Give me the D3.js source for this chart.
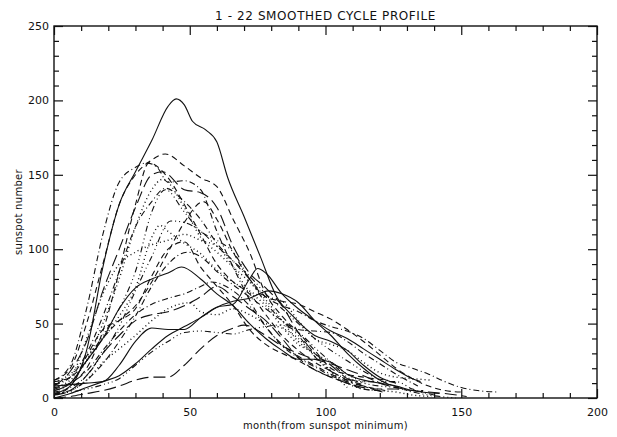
<!DOCTYPE html>
<html>
<head>
<meta charset="utf-8">
<script src="https://cdn.jsdelivr.net/npm/d3@7"></script>
<style>
    html, body { margin: 0; padding: 0; background: #fff; }
    svg { display: block; }
    text { font-family: 'DejaVu Sans', sans-serif; fill: #111; }
    .tick line { stroke: #111; }
    .axis .domain { display: none; }
</style>
</head>
<body>
<svg id="chart"></svg>
<script>
const titleText = '1 - 22 SMOOTHED CYCLE PROFILE';
const xLabelText = 'month(from sunspot minimum)';
const yLabelText = 'sunspot number';

const xMajorTicks = [0, 50, 100, 150, 200];
const yMajorTicks = [0, 50, 100, 150, 200, 250];

// [month from minimum, smoothed sunspot number]
const cycle01 = [[0,8],[6,9],[12,10],[18,11],[24,22],[30,38],[36,47],[42,46],[48,46],[54,54],[60,61],[66,63],[72,80],[75,87],[78,84],[84,70],[90,60],[96,52],[102,45],[108,40],[114,33],[120,26],[126,19],[132,13],[135,11]];
const cycle02 = [[0,11],[6,16],[12,28],[18,40],[24,55],[30,74],[36,108],[39,116],[42,112],[48,104],[54,97],[60,86],[66,78],[72,71],[78,62],[84,48],[90,36],[96,30],[102,18],[108,7]];
const cycle03 = [[0,7],[6,10],[12,20],[18,45],[24,85],[30,130],[35,158],[42,148],[48,130],[54,110],[60,90],[66,78],[72,70],[78,56],[84,42],[90,32],[96,24],[102,18],[108,12],[110,10]];
const cycle04 = [[0,9],[6,14],[12,30],[18,55],[24,85],[30,115],[36,132],[41,141],[48,132],[54,120],[60,104],[66,92],[72,80],[78,68],[84,62],[90,58],[96,52],[102,48],[108,45],[114,40],[120,32],[126,24],[132,20],[138,16],[144,11],[150,7],[156,5],[164,4]];
const cycle05 = [[0,3],[6,4],[12,6],[18,9],[24,13],[30,22],[36,31],[42,38],[48,44],[54,45],[60,44],[66,43],[72,46],[78,48],[83,49],[90,44],[96,34],[102,24],[108,14],[114,10],[120,8],[126,7],[132,4],[138,2],[148,0]];
const cycle06 = [[0,0],[6,1],[12,3],[18,5],[24,8],[30,12],[36,14],[42,14],[48,22],[54,33],[60,42],[66,47],[70,49],[78,42],[84,35],[90,30],[96,26],[102,23],[108,19],[114,15],[120,10],[126,7],[132,5],[138,4],[144,3],[152,1]];
const cycle07 = [[0,0],[6,3],[12,7],[18,11],[24,15],[30,23],[36,33],[42,42],[48,48],[54,54],[60,61],[66,65],[72,67],[79,72],[84,70],[90,64],[96,52],[102,42],[108,30],[114,20],[120,12],[127,7]];
const cycle08 = [[0,7],[6,12],[12,25],[18,50],[24,80],[30,115],[36,140],[40,147],[48,128],[54,108],[60,98],[66,88],[72,78],[78,66],[84,52],[90,38],[96,30],[102,24],[108,16],[115,10]];
const cycle09 = [[0,11],[6,14],[12,25],[18,40],[24,52],[30,62],[36,78],[42,98],[48,118],[55,132],[60,120],[66,98],[72,80],[78,68],[84,65],[90,63],[96,58],[102,53],[108,46],[114,38],[120,29],[126,20],[132,13],[138,8],[144,5],[150,4]];
const cycle10 = [[0,3],[6,5],[12,12],[18,23],[24,38],[30,55],[36,75],[42,90],[49,98],[54,95],[60,85],[66,76],[72,68],[78,60],[84,52],[90,46],[96,45],[102,44],[108,38],[114,30],[120,23],[126,16],[132,10],[134,8]];
const cycle11 = [[0,5],[6,10],[12,25],[18,42],[24,60],[30,85],[36,125],[41,140],[48,125],[54,112],[60,106],[66,98],[72,80],[78,64],[84,52],[90,42],[96,28],[102,18],[108,13],[114,11],[120,11],[126,11],[132,6],[140,2]];
const cycle12 = [[0,2],[6,5],[12,15],[18,30],[24,42],[30,52],[36,56],[42,58],[48,62],[54,68],[60,75],[66,68],[72,60],[78,52],[84,40],[90,27],[96,19],[102,14],[108,10],[114,7],[120,6],[126,6],[132,5],[136,5]];
const cycle13 = [[0,5],[6,10],[12,25],[18,40],[24,60],[30,74],[36,80],[42,84],[47,88],[54,80],[60,70],[66,62],[72,50],[78,40],[84,32],[90,26],[96,26],[102,24],[108,16],[114,12],[120,10],[126,8],[132,5],[142,3]];
const cycle14 = [[0,3],[6,5],[12,12],[18,24],[24,33],[30,42],[36,52],[42,60],[50,64],[54,58],[60,56],[66,60],[72,56],[78,50],[84,47],[90,40],[96,28],[102,18],[108,10],[114,6],[120,5],[126,4],[132,2],[139,1]];
const cycle15 = [[0,2],[6,8],[12,28],[18,46],[24,52],[30,60],[36,82],[42,100],[48,105],[54,88],[60,75],[66,62],[72,46],[78,36],[84,30],[90,25],[96,19],[102,14],[108,10],[114,6],[120,5]];
const cycle16 = [[0,6],[6,10],[12,18],[18,32],[24,45],[30,56],[36,63],[42,67],[48,70],[54,75],[58,78],[66,72],[72,62],[78,48],[84,35],[90,27],[96,21],[102,15],[108,11],[114,8],[122,5]];
const cycle17 = [[0,4],[6,7],[12,15],[18,30],[24,48],[30,72],[36,95],[43,119],[48,118],[54,112],[60,102],[66,92],[72,82],[78,70],[84,60],[90,50],[96,40],[102,32],[108,25],[114,18],[120,12],[125,8]];
const cycle18 = [[0,8],[6,18],[12,38],[18,72],[24,100],[30,128],[36,150],[40,152],[48,140],[54,138],[60,128],[66,102],[72,84],[78,74],[84,62],[90,44],[96,30],[102,22],[108,13],[114,8],[121,4]];
const cycle19 = [[0,3],[6,8],[12,32],[18,88],[24,130],[30,152],[36,173],[42,196],[45,201],[48,197],[51,186],[56,180],[60,172],[64,148],[70,122],[76,95],[82,68],[88,55],[96,42],[102,38],[108,32],[114,22],[120,14],[126,10]];
const cycle20 = [[0,10],[6,14],[12,40],[18,70],[24,90],[30,98],[36,103],[42,106],[48,110],[54,106],[60,102],[66,88],[72,72],[78,68],[84,65],[90,52],[96,40],[102,36],[108,32],[114,24],[120,17],[126,14],[132,13],[139,12]];
const cycle21 = [[0,12],[6,20],[12,50],[18,90],[24,130],[30,150],[36,160],[41,164],[48,156],[54,148],[60,142],[66,120],[72,98],[78,70],[84,55],[90,44],[96,32],[102,20],[108,16],[114,14],[123,12]];
const cycle22 = [[0,12],[6,22],[12,60],[18,110],[24,145],[30,155],[34,158],[38,155],[42,145],[48,146],[54,140],[60,112],[66,88],[72,66],[78,48],[84,36],[90,28],[96,22],[102,16],[108,12],[114,9]];

const cycles = [
    cycle01, cycle02, cycle03, cycle04, cycle05, cycle06, cycle07, cycle08, cycle09, cycle10, cycle11,
    cycle12, cycle13, cycle14, cycle15, cycle16, cycle17, cycle18, cycle19, cycle20, cycle21, cycle22,
];

// IDL-like linestyles: solid, dotted, dashed, dash-dot, dash-dot-dot-dot, long dash
const lineStyles = ['none', '1,3', '6,4', '6,3,1,3', '6,3,1,3,1,3,1,3', '12,5'];

const fullWidth = 617;
const fullHeight = 437;
const margin = {top: 26, right: 20, bottom: 39, left: 54};
const width = fullWidth - margin.left - margin.right;
const height = fullHeight - margin.top - margin.bottom;

const xScale = d3.scaleLinear()
    .domain([0, 200])
    .range([0, width]);

const yScale = d3.scaleLinear()
    .domain([0, 250])
    .range([height, 0]);

const xMinor = d3.range(0, 201, 10).filter(d => xMajorTicks.indexOf(d) < 0);
const yMinor = d3.range(0, 251, 10).filter(d => yMajorTicks.indexOf(d) < 0);

const svg = d3.select('#chart')
    .attr('width', fullWidth)
    .attr('height', fullHeight);

const g = svg.append('g')
    .attr('transform', `translate(${margin.left}, ${margin.top})`);

const line = d3.line()
    .x(d => xScale(d[0]))
    .y(d => yScale(d[1]))
    .curve(d3.curveMonotoneX);

const gLines = g.append('g').attr('class', 'cycles');

gLines.selectAll('.cycle').data(cycles)
    .enter().append('path')
    .attr('class', (d, i) => `cycle cycle--${i + 1}`)
    .attr('d', line)
    .attr('fill', 'none')
    .attr('stroke', '#111')
    .attr('stroke-width', (d, i) => (i % 6 === 1 ? 1.4 : 1.1))
    .attr('stroke-dasharray', (d, i) => lineStyles[i % 6]);

// frame
g.append('rect')
    .attr('x', 0)
    .attr('y', 0)
    .attr('width', width)
    .attr('height', height)
    .attr('fill', 'none')
    .attr('stroke', '#111')
    .attr('stroke-width', 1.4);

const tickFont = (sel) => sel.selectAll('text')
    .style('font-size', '11px')
    .style('font-family', "'DejaVu Sans', sans-serif");

// bottom axis with labels
g.append('g')
    .attr('class', 'axis axis--x')
    .attr('transform', `translate(0, ${height})`)
    .call(d3.axisBottom(xScale).tickValues(xMajorTicks).tickSizeInner(-9).tickSizeOuter(0).tickPadding(10).tickFormat(d3.format('d')))
    .call(tickFont);

g.append('g')
    .attr('class', 'axis axis--x-minor')
    .attr('transform', `translate(0, ${height})`)
    .call(d3.axisBottom(xScale).tickValues(xMinor).tickSizeInner(-5).tickSizeOuter(0).tickFormat(''));

// top axis ticks only
g.append('g')
    .attr('class', 'axis axis--x-top')
    .call(d3.axisTop(xScale).tickValues(xMajorTicks).tickSizeInner(-9).tickSizeOuter(0).tickFormat(''));

g.append('g')
    .attr('class', 'axis axis--x-top-minor')
    .call(d3.axisTop(xScale).tickValues(xMinor).tickSizeInner(-5).tickSizeOuter(0).tickFormat(''));

// left axis with labels
g.append('g')
    .attr('class', 'axis axis--y')
    .call(d3.axisLeft(yScale).tickValues(yMajorTicks).tickSizeInner(-9).tickSizeOuter(0).tickPadding(5).tickFormat(d3.format('d')))
    .call(tickFont);

g.append('g')
    .attr('class', 'axis axis--y-minor')
    .call(d3.axisLeft(yScale).tickValues(yMinor).tickSizeInner(-5).tickSizeOuter(0).tickFormat(''));

// right axis ticks only
g.append('g')
    .attr('class', 'axis axis--y-right')
    .attr('transform', `translate(${width}, 0)`)
    .call(d3.axisRight(yScale).tickValues(yMajorTicks).tickSizeInner(-9).tickSizeOuter(0).tickFormat(''));

g.append('g')
    .attr('class', 'axis axis--y-right-minor')
    .attr('transform', `translate(${width}, 0)`)
    .call(d3.axisRight(yScale).tickValues(yMinor).tickSizeInner(-5).tickSizeOuter(0).tickFormat(''));

svg.selectAll('.tick line').attr('stroke-width', 1.2);

// title and axis labels
svg.append('text')
    .attr('x', margin.left + width / 2)
    .attr('y', 20)
    .attr('text-anchor', 'middle')
    .style('font-size', '12px')
    .style('letter-spacing', '0.6px')
    .text(titleText);

svg.append('text')
    .attr('x', margin.left + width / 2)
    .attr('y', 429)
    .attr('text-anchor', 'middle')
    .style('font-size', '10px')
    .style('letter-spacing', '0.3px')
    .text(xLabelText);

svg.append('text')
    .attr('transform', `translate(22, ${margin.top + height / 2}) rotate(-90)`)
    .attr('text-anchor', 'middle')
    .style('font-size', '10px')
    .style('letter-spacing', '0.3px')
    .text(yLabelText);
</script>
</body>
</html>
